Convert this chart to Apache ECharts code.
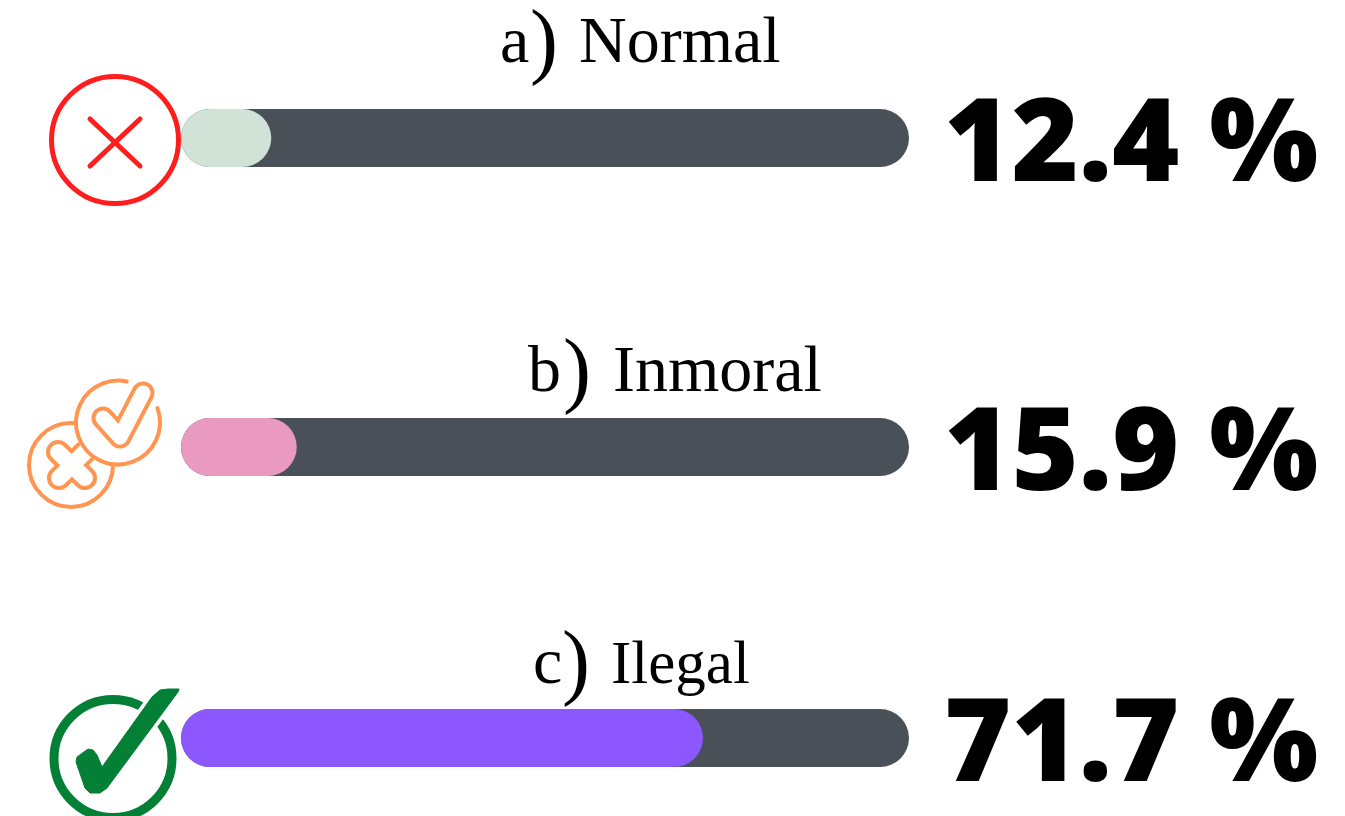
<!DOCTYPE html>
<html>
<head>
<meta charset="utf-8">
<style>
html, body { margin: 0; padding: 0; background: #fff; }
#chart { width: 1345px; height: 816px; }
</style>
<script src="https://cdn.jsdelivr.net/npm/echarts@6/dist/echarts.min.js"></script>
</head>
<body>
<div id="chart"></div>
<script>
var markers = ['a', 'b', 'c'];
var categories = ['Normal', 'Inmoral', 'Ilegal'];
var values = [12.4, 15.9, 71.7];
var trackValues = [100, 100, 100];
var barColors = ['#d0e3d6', '#ea9ac1', '#8c57ff'];

var chart = echarts.init(document.getElementById('chart'), null, { renderer: 'canvas' });

// each bar sits in its own grid because the rows are not evenly spaced
var barTops = [109, 418, 709];
var markerPos = [[500, 12], [528, 341], [533, 633]];
var parenPos = [[530, 4], [563, 333], [562, 625]];
var namePos = [[579, 12], [613, 341], [611, 636]];
var nameSizes = [66, 66, 61];

function textTitle(text, pos, size) {
    return {
        text: text,
        left: pos[0],
        top: pos[1],
        padding: 0,
        textStyle: { fontFamily: 'Liberation Serif', fontWeight: 'normal', fontSize: size, color: '#000' }
    };
}

var grids = [], xAxes = [], yAxes = [], series = [], titles = [];
categories.forEach(function (name, i) {
    grids.push({ left: 181, width: 728, top: barTops[i], height: 58 });
    xAxes.push({ gridIndex: i, type: 'value', min: 0, max: 100, show: false });
    yAxes.push({ gridIndex: i, type: 'category', data: [name], show: false });
    series.push({
        type: 'bar',
        xAxisIndex: i,
        yAxisIndex: i,
        data: [trackValues[i]],
        barWidth: 58,
        barGap: '-100%',
        silent: true,
        itemStyle: { color: '#4a5058', borderRadius: 29 },
        label: {
            show: true,
            position: 'right',
            distance: 35,
            offset: [0, 10],
            formatter: function () { return values[i].toFixed(1) + ' %'; },
            fontFamily: 'Open Sans',
            fontWeight: 800,
            fontSize: 115,
            color: '#000'
        }
    });
    series.push({
        type: 'bar',
        xAxisIndex: i,
        yAxisIndex: i,
        data: [values[i]],
        barWidth: 58,
        barGap: '-100%',
        silent: true,
        itemStyle: { color: barColors[i], borderRadius: 29 }
    });
    titles.push(textTitle(markers[i], markerPos[i], 66));
    titles.push(textTitle(')', parenPos[i], 84));
    titles.push(textTitle(name, namePos[i], nameSizes[i]));
});

var red = '#ff1d1d', orange = '#ff9550', green = '#048036';
var tickPoints = [[143, 393], [120, 437], [103, 418]];
var greenTick = [[179, 689], [168, 689], [160, 690], [152, 697], [102, 767], [97, 755], [93, 750], [88, 749], [77, 757], [76, 762], [85, 788], [90, 793], [100, 793], [107, 788], [178, 692]];

var icons = [
    // red cross in ring
    { type: 'circle', shape: { cx: 115, cy: 140, r: 63.5 }, style: { fill: '#fff', stroke: red, lineWidth: 5 } },
    { type: 'line', shape: { x1: 90, y1: 119, x2: 140, y2: 166 }, style: { stroke: red, lineWidth: 5, lineCap: 'round' } },
    { type: 'line', shape: { x1: 140, y1: 119, x2: 90, y2: 166 }, style: { stroke: red, lineWidth: 5, lineCap: 'round' } },
    // orange cross badge, outline made from a wide line with a thinner white one over it
    { type: 'circle', shape: { cx: 71, cy: 465, r: 42 }, style: { fill: '#fff', stroke: orange, lineWidth: 4 } },
    { type: 'line', shape: { x1: 58, y1: 452, x2: 85, y2: 478 }, style: { stroke: orange, lineWidth: 24, lineCap: 'round' } },
    { type: 'line', shape: { x1: 85, y1: 452, x2: 59, y2: 478 }, style: { stroke: orange, lineWidth: 24, lineCap: 'round' } },
    { type: 'line', shape: { x1: 58, y1: 452, x2: 85, y2: 478 }, style: { stroke: '#fff', lineWidth: 16, lineCap: 'round' } },
    { type: 'line', shape: { x1: 85, y1: 452, x2: 59, y2: 478 }, style: { stroke: '#fff', lineWidth: 16, lineCap: 'round' } },
    // orange tick badge
    { type: 'circle', shape: { cx: 118, cy: 422.5, r: 44 }, style: { fill: '#fff' } },
    { type: 'arc', shape: { cx: 118, cy: 422.5, r: 42, startAngle: -0.35, endAngle: -1.36, clockwise: true }, style: { fill: 'none', stroke: orange, lineWidth: 4, lineCap: 'round' } },
    { type: 'polyline', shape: { points: tickPoints }, style: { fill: 'none', stroke: orange, lineWidth: 23, lineCap: 'round', lineJoin: 'round' } },
    { type: 'polyline', shape: { points: tickPoints }, style: { fill: 'none', stroke: '#fff', lineWidth: 15, lineCap: 'round', lineJoin: 'round' } },
    // green tick in ring, white edge cuts the gap in the ring
    { type: 'circle', shape: { cx: 113, cy: 758.5, r: 59 }, style: { fill: 'none', stroke: green, lineWidth: 9 } },
    { type: 'polygon', shape: { points: greenTick }, style: { fill: green, stroke: '#fff', lineWidth: 8, lineJoin: 'round' } },
    { type: 'polygon', shape: { points: greenTick }, style: { fill: green, stroke: green, lineWidth: 1, lineJoin: 'round' } }
];

chart.setOption({
    animation: false,
    backgroundColor: '#fff',
    title: titles,
    grid: grids,
    xAxis: xAxes,
    yAxis: yAxes,
    series: series,
    graphic: icons
});
window.onresize = chart.resize;
</script>
</body>
</html>
